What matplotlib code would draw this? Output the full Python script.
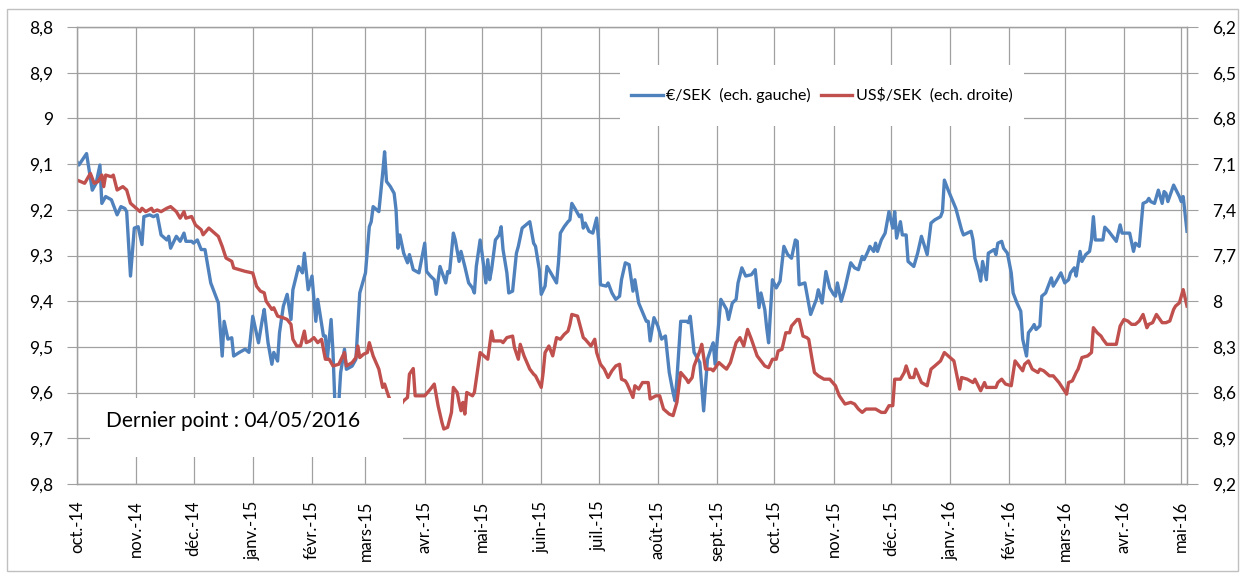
import matplotlib
matplotlib.use('Agg')
import matplotlib.pyplot as plt
from matplotlib.patches import Rectangle
import pandas as pd

# €/SEK (left scale)
eur_dates = [
    '2014-10-01', '2014-10-02', '2014-10-06', '2014-10-09', '2014-10-11', '2014-10-13', '2014-10-14', '2014-10-16',
    '2014-10-19', '2014-10-22', '2014-10-24', '2014-10-26', '2014-10-27', '2014-10-29', '2014-10-31', '2014-11-02',
    '2014-11-04', '2014-11-05', '2014-11-08', '2014-11-10', '2014-11-12', '2014-11-14', '2014-11-17', '2014-11-18',
    '2014-11-19', '2014-11-22', '2014-11-24', '2014-11-26', '2014-11-27', '2014-11-30', '2014-12-01', '2014-12-03',
    '2014-12-05', '2014-12-07', '2014-12-10', '2014-12-14', '2014-12-16', '2014-12-17', '2014-12-19', '2014-12-21',
    '2014-12-22', '2014-12-25', '2014-12-28', '2014-12-30', '2015-01-01', '2015-01-04', '2015-01-06', '2015-01-07',
    '2015-01-09', '2015-01-11', '2015-01-12', '2015-01-14', '2015-01-15', '2015-01-17', '2015-01-19', '2015-01-21',
    '2015-01-22', '2015-01-25', '2015-01-27', '2015-01-28', '2015-01-30', '2015-02-01', '2015-02-03', '2015-02-04',
    '2015-02-07', '2015-02-08', '2015-02-09', '2015-02-11', '2015-02-12', '2015-02-13', '2015-02-15', '2015-02-16',
    '2015-02-18', '2015-02-19', '2015-02-22', '2015-02-24', '2015-02-26', '2015-03-01', '2015-03-03', '2015-03-04',
    '2015-03-05', '2015-03-08', '2015-03-10', '2015-03-11', '2015-03-12', '2015-03-14', '2015-03-16', '2015-03-17',
    '2015-03-18', '2015-03-19', '2015-03-21', '2015-03-23', '2015-03-24', '2015-03-26', '2015-03-29', '2015-03-31',
    '2015-04-01', '2015-04-02', '2015-04-04', '2015-04-06', '2015-04-07', '2015-04-09', '2015-04-12', '2015-04-13',
    '2015-04-14', '2015-04-16', '2015-04-17', '2015-04-19', '2015-04-20', '2015-04-22', '2015-04-24', '2015-04-26',
    '2015-04-27', '2015-04-28', '2015-04-30', '2015-05-01', '2015-05-03', '2015-05-04', '2015-05-05', '2015-05-06',
    '2015-05-08', '2015-05-10', '2015-05-11', '2015-05-12', '2015-05-14', '2015-05-15', '2015-05-17', '2015-05-19',
    '2015-05-20', '2015-05-22', '2015-05-24', '2015-05-26', '2015-05-28', '2015-05-29', '2015-05-31', '2015-06-01',
    '2015-06-03', '2015-06-04', '2015-06-06', '2015-06-09', '2015-06-10', '2015-06-11', '2015-06-13', '2015-06-15',
    '2015-06-16', '2015-06-17', '2015-06-19', '2015-06-21', '2015-06-22', '2015-06-23', '2015-06-24', '2015-06-26',
    '2015-06-28', '2015-06-30', '2015-07-01', '2015-07-02', '2015-07-05', '2015-07-06', '2015-07-08', '2015-07-10',
    '2015-07-12', '2015-07-13', '2015-07-15', '2015-07-17', '2015-07-19', '2015-07-20', '2015-07-22', '2015-07-23',
    '2015-07-26', '2015-07-27', '2015-07-28', '2015-07-30', '2015-08-01', '2015-08-02', '2015-08-03', '2015-08-05',
    '2015-08-07', '2015-08-09', '2015-08-10', '2015-08-11', '2015-08-13', '2015-08-16', '2015-08-17', '2015-08-18',
    '2015-08-20', '2015-08-23', '2015-08-25', '2015-08-27', '2015-08-29', '2015-08-30', '2015-08-31', '2015-09-03',
    '2015-09-06', '2015-09-07', '2015-09-09', '2015-09-11', '2015-09-12', '2015-09-14', '2015-09-16', '2015-09-19',
    '2015-09-21', '2015-09-23', '2015-09-24', '2015-09-26', '2015-09-27', '2015-09-28', '2015-09-30', '2015-10-02',
    '2015-10-04', '2015-10-06', '2015-10-08', '2015-10-10', '2015-10-12', '2015-10-13', '2015-10-14', '2015-10-17',
    '2015-10-20', '2015-10-23', '2015-10-24', '2015-10-26', '2015-10-28', '2015-10-30', '2015-11-01', '2015-11-02',
    '2015-11-03', '2015-11-05', '2015-11-07', '2015-11-10', '2015-11-12', '2015-11-14', '2015-11-16', '2015-11-17',
    '2015-11-19', '2015-11-20', '2015-11-22', '2015-11-23', '2015-11-24', '2015-11-26', '2015-11-28', '2015-11-30',
    '2015-12-02', '2015-12-03', '2015-12-04', '2015-12-06', '2015-12-07', '2015-12-09', '2015-12-10', '2015-12-13',
    '2015-12-15', '2015-12-17', '2015-12-20', '2015-12-22', '2015-12-24', '2015-12-27', '2015-12-28', '2015-12-29',
    '2015-12-31', '2016-01-04', '2016-01-07', '2016-01-08', '2016-01-12', '2016-01-13', '2016-01-14', '2016-01-16',
    '2016-01-17', '2016-01-18', '2016-01-20', '2016-01-21', '2016-01-24', '2016-01-25', '2016-01-26', '2016-01-28',
    '2016-01-29', '2016-01-31', '2016-02-02', '2016-02-03', '2016-02-05', '2016-02-07', '2016-02-08', '2016-02-10',
    '2016-02-11', '2016-02-13', '2016-02-14', '2016-02-15', '2016-02-17', '2016-02-18', '2016-02-20', '2016-02-22',
    '2016-02-23', '2016-02-24', '2016-02-26', '2016-02-28', '2016-03-01', '2016-03-03', '2016-03-04', '2016-03-06',
    '2016-03-07', '2016-03-09', '2016-03-10', '2016-03-12', '2016-03-14', '2016-03-15', '2016-03-16', '2016-03-17',
    '2016-03-19', '2016-03-21', '2016-03-22', '2016-03-24', '2016-03-26', '2016-03-28', '2016-03-30', '2016-03-31',
    '2016-04-03', '2016-04-04', '2016-04-06', '2016-04-07', '2016-04-09', '2016-04-11', '2016-04-13', '2016-04-14',
    '2016-04-15', '2016-04-17', '2016-04-19', '2016-04-21', '2016-04-22', '2016-04-23', '2016-04-24', '2016-04-27',
    '2016-04-30', '2016-05-01', '2016-05-02', '2016-05-04',
]
eur_values = [
    9.095, 9.102, 9.077, 9.157, 9.142, 9.102, 9.186, 9.171,
    9.178, 9.211, 9.193, 9.197, 9.204, 9.345, 9.240, 9.237,
    9.276, 9.215, 9.211, 9.215, 9.211, 9.255, 9.266, 9.258,
    9.284, 9.258, 9.269, 9.251, 9.269, 9.269, 9.273, 9.266,
    9.287, 9.287, 9.360, 9.404, 9.520, 9.444, 9.483, 9.480,
    9.520, 9.512, 9.505, 9.512, 9.433, 9.491, 9.440, 9.418,
    9.491, 9.538, 9.512, 9.531, 9.469, 9.411, 9.385, 9.440,
    9.375, 9.324, 9.338, 9.295, 9.375, 9.345, 9.444, 9.396,
    9.476, 9.476, 9.527, 9.440, 9.512, 9.625, 9.625, 9.556,
    9.505, 9.549, 9.542, 9.527, 9.382, 9.338, 9.237, 9.226,
    9.193, 9.204, 9.120, 9.073, 9.138, 9.149, 9.164, 9.200,
    9.284, 9.255, 9.295, 9.316, 9.298, 9.331, 9.338, 9.295,
    9.273, 9.335, 9.345, 9.353, 9.385, 9.324, 9.360, 9.335,
    9.338, 9.251, 9.266, 9.313, 9.291, 9.324, 9.360, 9.371,
    9.382, 9.324, 9.266, 9.295, 9.360, 9.309, 9.353, 9.331,
    9.266, 9.255, 9.237, 9.287, 9.338, 9.382, 9.378, 9.295,
    9.280, 9.240, 9.233, 9.226, 9.273, 9.280, 9.331, 9.385,
    9.367, 9.324, 9.338, 9.360, 9.316, 9.251, 9.237, 9.226,
    9.222, 9.186, 9.200, 9.215, 9.211, 9.240, 9.229, 9.247,
    9.251, 9.218, 9.266, 9.364, 9.367, 9.360, 9.382, 9.396,
    9.389, 9.353, 9.316, 9.320, 9.378, 9.353, 9.404, 9.414,
    9.444, 9.444, 9.487, 9.436, 9.454, 9.469, 9.483, 9.476,
    9.556, 9.600, 9.618, 9.571, 9.444, 9.444, 9.447, 9.433,
    9.512, 9.534, 9.640, 9.527, 9.502, 9.491, 9.538, 9.396,
    9.418, 9.440, 9.404, 9.396, 9.360, 9.327, 9.345, 9.342,
    9.331, 9.414, 9.382, 9.418, 9.458, 9.491, 9.353, 9.371,
    9.356, 9.280, 9.298, 9.306, 9.266, 9.269, 9.364, 9.360,
    9.429, 9.396, 9.375, 9.404, 9.335, 9.371, 9.385, 9.389,
    9.360, 9.400, 9.371, 9.316, 9.327, 9.331, 9.302, 9.309,
    9.291, 9.280, 9.291, 9.273, 9.291, 9.266, 9.251, 9.204,
    9.240, 9.204, 9.262, 9.226, 9.255, 9.255, 9.313, 9.324,
    9.295, 9.258, 9.298, 9.229, 9.222, 9.215, 9.204, 9.135,
    9.157, 9.197, 9.244, 9.255, 9.247, 9.266, 9.306, 9.335,
    9.356, 9.313, 9.353, 9.295, 9.287, 9.298, 9.273, 9.269,
    9.284, 9.295, 9.338, 9.382, 9.404, 9.422, 9.483, 9.520,
    9.469, 9.458, 9.451, 9.462, 9.454, 9.389, 9.382, 9.360,
    9.349, 9.367, 9.353, 9.338, 9.360, 9.353, 9.338, 9.327,
    9.345, 9.291, 9.313, 9.298, 9.291, 9.266, 9.215, 9.266,
    9.266, 9.266, 9.238, 9.247, 9.258, 9.269, 9.233, 9.251,
    9.251, 9.251, 9.291, 9.273, 9.280, 9.186, 9.182, 9.175,
    9.182, 9.186, 9.157, 9.186, 9.160, 9.164, 9.182, 9.146,
    9.171, 9.182, 9.171, 9.247,
]

# US$/SEK (right scale)
usd_dates = [
    '2014-10-01', '2014-10-03', '2014-10-05', '2014-10-08', '2014-10-10', '2014-10-12', '2014-10-14', '2014-10-15',
    '2014-10-16', '2014-10-19', '2014-10-20', '2014-10-22', '2014-10-25', '2014-10-27', '2014-10-29', '2014-10-31',
    '2014-11-03', '2014-11-04', '2014-11-06', '2014-11-09', '2014-11-10', '2014-11-12', '2014-11-14', '2014-11-17',
    '2014-11-19', '2014-11-22', '2014-11-24', '2014-11-26', '2014-11-27', '2014-11-30', '2014-12-02', '2014-12-05',
    '2014-12-06', '2014-12-09', '2014-12-11', '2014-12-14', '2014-12-16', '2014-12-18', '2014-12-21', '2014-12-22',
    '2014-12-25', '2014-12-28', '2015-01-01', '2015-01-03', '2015-01-05', '2015-01-07', '2015-01-08', '2015-01-11',
    '2015-01-12', '2015-01-14', '2015-01-17', '2015-01-19', '2015-01-21', '2015-01-22', '2015-01-24', '2015-01-26',
    '2015-01-28', '2015-01-29', '2015-01-31', '2015-02-02', '2015-02-04', '2015-02-06', '2015-02-08', '2015-02-10',
    '2015-02-12', '2015-02-15', '2015-02-18', '2015-02-19', '2015-02-22', '2015-02-24', '2015-02-25', '2015-02-26',
    '2015-02-28', '2015-03-02', '2015-03-03', '2015-03-05', '2015-03-08', '2015-03-10', '2015-03-11', '2015-03-13',
    '2015-03-15', '2015-03-17', '2015-03-19', '2015-03-21', '2015-03-23', '2015-03-24', '2015-03-26', '2015-03-27',
    '2015-03-29', '2015-04-01', '2015-04-04', '2015-04-06', '2015-04-08', '2015-04-10', '2015-04-11', '2015-04-13',
    '2015-04-15', '2015-04-16', '2015-04-18', '2015-04-19', '2015-04-20', '2015-04-21', '2015-04-22', '2015-04-23',
    '2015-04-26', '2015-04-27', '2015-04-30', '2015-05-02', '2015-05-04', '2015-05-06', '2015-05-07', '2015-05-11',
    '2015-05-12', '2015-05-14', '2015-05-17', '2015-05-18', '2015-05-20', '2015-05-21', '2015-05-23', '2015-05-26',
    '2015-05-28', '2015-05-29', '2015-06-01', '2015-06-02', '2015-06-03', '2015-06-05', '2015-06-07', '2015-06-09',
    '2015-06-11', '2015-06-13', '2015-06-15', '2015-06-16', '2015-06-17', '2015-06-20', '2015-06-23', '2015-06-24',
    '2015-06-27', '2015-06-29', '2015-06-30', '2015-07-02', '2015-07-04', '2015-07-06', '2015-07-08', '2015-07-10',
    '2015-07-12', '2015-07-13', '2015-07-15', '2015-07-16', '2015-07-19', '2015-07-20', '2015-07-22', '2015-07-24',
    '2015-07-27', '2015-07-28', '2015-07-31', '2015-08-02', '2015-08-04', '2015-08-07', '2015-08-09', '2015-08-11',
    '2015-08-13', '2015-08-16', '2015-08-17', '2015-08-19', '2015-08-20', '2015-08-23', '2015-08-24', '2015-08-26',
    '2015-08-29', '2015-08-30', '2015-09-02', '2015-09-05', '2015-09-06', '2015-09-08', '2015-09-11', '2015-09-13',
    '2015-09-15', '2015-09-17', '2015-09-19', '2015-09-22', '2015-09-24', '2015-09-26', '2015-09-28', '2015-09-30',
    '2015-10-02', '2015-10-03', '2015-10-05', '2015-10-07', '2015-10-09', '2015-10-10', '2015-10-13', '2015-10-14',
    '2015-10-16', '2015-10-18', '2015-10-19', '2015-10-21', '2015-10-22', '2015-10-24', '2015-10-27', '2015-10-30',
    '2015-11-02', '2015-11-04', '2015-11-07', '2015-11-10', '2015-11-12', '2015-11-14', '2015-11-16', '2015-11-18',
    '2015-11-21', '2015-11-23', '2015-11-26', '2015-11-28', '2015-11-30', '2015-12-02', '2015-12-03', '2015-12-06',
    '2015-12-08', '2015-12-09', '2015-12-11', '2015-12-13', '2015-12-14', '2015-12-17', '2015-12-20', '2015-12-22',
    '2015-12-24', '2015-12-27', '2015-12-29', '2015-12-31', '2016-01-03', '2016-01-06', '2016-01-07', '2016-01-10',
    '2016-01-13', '2016-01-14', '2016-01-17', '2016-01-19', '2016-01-20', '2016-01-23', '2016-01-25', '2016-01-26',
    '2016-01-28', '2016-01-30', '2016-02-02', '2016-02-04', '2016-02-06', '2016-02-08', '2016-02-09', '2016-02-11',
    '2016-02-13', '2016-02-16', '2016-02-17', '2016-02-19', '2016-02-22', '2016-02-24', '2016-02-27', '2016-03-02',
    '2016-03-03', '2016-03-05', '2016-03-07', '2016-03-08', '2016-03-10', '2016-03-13', '2016-03-15', '2016-03-16',
    '2016-03-18', '2016-03-20', '2016-03-21', '2016-03-23', '2016-03-26', '2016-03-28', '2016-03-30', '2016-04-01',
    '2016-04-03', '2016-04-05', '2016-04-07', '2016-04-09', '2016-04-11', '2016-04-13', '2016-04-14', '2016-04-16',
    '2016-04-18', '2016-04-21', '2016-04-23', '2016-04-25', '2016-04-27', '2016-04-28', '2016-04-30', '2016-05-02',
    '2016-05-04',
]
usd_values = [
    7.205, 7.215, 7.226, 7.161, 7.226, 7.215, 7.172, 7.248,
    7.172, 7.183, 7.172, 7.270, 7.248, 7.270, 7.357, 7.379,
    7.412, 7.390, 7.412, 7.390, 7.412, 7.401, 7.412, 7.390,
    7.379, 7.412, 7.455, 7.412, 7.455, 7.444, 7.499, 7.531,
    7.564, 7.520, 7.542, 7.575, 7.640, 7.717, 7.738, 7.782,
    7.793, 7.804, 7.815, 7.902, 7.934, 7.945, 8.000, 8.054,
    8.043, 8.098, 8.109, 8.120, 8.152, 8.250, 8.294, 8.294,
    8.196, 8.272, 8.261, 8.239, 8.272, 8.250, 8.381, 8.381,
    8.425, 8.414, 8.337, 8.425, 8.403, 8.370, 8.294, 8.370,
    8.348, 8.337, 8.272, 8.359, 8.446, 8.566, 8.544, 8.621,
    8.680, 8.700, 8.690, 8.653, 8.632, 8.479, 8.442, 8.621,
    8.621, 8.621, 8.577, 8.544, 8.686, 8.795, 8.839, 8.828,
    8.730, 8.566, 8.599, 8.664, 8.719, 8.664, 8.741, 8.599,
    8.621, 8.599, 8.337, 8.359, 8.381, 8.196, 8.261, 8.261,
    8.272, 8.239, 8.229, 8.305, 8.381, 8.283, 8.359, 8.446,
    8.479, 8.490, 8.566, 8.468, 8.337, 8.294, 8.359, 8.239,
    8.250, 8.218, 8.196, 8.152, 8.087, 8.098, 8.239, 8.250,
    8.294, 8.250, 8.337, 8.414, 8.446, 8.501, 8.457, 8.425,
    8.414, 8.512, 8.523, 8.544, 8.632, 8.555, 8.577, 8.534,
    8.534, 8.642, 8.621, 8.621, 8.708, 8.741, 8.751, 8.664,
    8.468, 8.512, 8.534, 8.501, 8.425, 8.327, 8.283, 8.446,
    8.446, 8.457, 8.403, 8.436, 8.446, 8.403, 8.272, 8.239,
    8.294, 8.185, 8.250, 8.359, 8.392, 8.425, 8.436, 8.381,
    8.381, 8.327, 8.316, 8.207, 8.207, 8.163, 8.120, 8.120,
    8.229, 8.239, 8.250, 8.400, 8.468, 8.490, 8.512, 8.512,
    8.555, 8.621, 8.675, 8.664, 8.675, 8.708, 8.730, 8.708,
    8.708, 8.708, 8.730, 8.730, 8.686, 8.686, 8.512, 8.512,
    8.468, 8.425, 8.501, 8.501, 8.446, 8.534, 8.555, 8.446,
    8.425, 8.392, 8.337, 8.359, 8.392, 8.577, 8.501, 8.512,
    8.534, 8.512, 8.588, 8.534, 8.566, 8.566, 8.566, 8.534,
    8.512, 8.544, 8.555, 8.392, 8.425, 8.457, 8.414, 8.392,
    8.446, 8.468, 8.446, 8.457, 8.490, 8.490, 8.534, 8.610,
    8.534, 8.523, 8.468, 8.446, 8.370, 8.359, 8.337, 8.174,
    8.207, 8.229, 8.250, 8.283, 8.283, 8.283, 8.163, 8.120,
    8.130, 8.152, 8.152, 8.130, 8.087, 8.174, 8.152, 8.141,
    8.087, 8.141, 8.141, 8.130, 8.054, 8.032, 8.011, 7.924,
    8.032,
]

left_ticks = [8.8, 8.9, 9.0, 9.1, 9.2, 9.3, 9.4, 9.5, 9.6, 9.7, 9.8]
left_labels = ['8,8', '8,9', '9', '9,1', '9,2', '9,3', '9,4', '9,5', '9,6', '9,7', '9,8']
right_ticks = [6.2, 6.5, 6.8, 7.1, 7.4, 7.7, 8.0, 8.3, 8.6, 8.9, 9.2]
right_labels = ['6,2', '6,5', '6,8', '7,1', '7,4', '7,7', '8', '8,3', '8,6', '8,9', '9,2']
month_labels = ['oct.-14', 'nov.-14', 'déc.-14', 'janv.-15', 'févr.-15', 'mars-15', 'avr.-15',
                'mai-15', 'juin-15', 'juil.-15', 'août-15', 'sept.-15', 'oct.-15', 'nov.-15',
                'déc.-15', 'janv.-16', 'févr.-16', 'mars-16', 'avr.-16', 'mai-16']

plt.rcParams['font.family'] = ['Lato', 'DejaVu Sans']
grid_col = '#a0a0a0'

W, H = 1245, 578
fig = plt.figure(figsize=(W / 100, H / 100), dpi=100)
ax = fig.add_axes([77 / W, 1 - 484 / H, 1110 / W, 457 / H])
ax2 = ax.twinx()

l1, = ax.plot(pd.to_datetime(eur_dates), eur_values, color='#4F81BD', lw=2.4,
              label='€/SEK  (ech. gauche)')
l2, = ax2.plot(pd.to_datetime(usd_dates), usd_values, color='#C0504D', lw=2.4,
               label='US$/SEK  (ech. droite)')

ax.set_xlim(pd.Timestamp('2014-10-01'), pd.Timestamp('2016-05-04'))
ax.set_ylim(9.8, 8.8)
ax2.set_ylim(9.2, 6.2)

ax.set_yticks(left_ticks)
ax.set_yticklabels(left_labels, fontsize=12.5)
ax2.set_yticks(right_ticks)
ax2.set_yticklabels(right_labels, fontsize=12.5)
ax.set_xticks(pd.date_range('2014-10-01', '2016-05-01', freq='MS'))
ax.set_xticklabels(month_labels, rotation=90, fontsize=12)

ax.grid(True, color=grid_col, lw=0.9)
ax.set_axisbelow(True)
for a in (ax, ax2):
    for s in a.spines.values():
        s.set_color(grid_col)
        s.set_linewidth(0.9)
ax.tick_params(axis='y', length=7, color=grid_col, pad=10)
ax.tick_params(axis='x', length=0, pad=12)
ax2.tick_params(axis='y', length=8, color=grid_col, pad=10)

# white boxes over the grid, as in the original
ax2.add_patch(Rectangle((0.4892, 0.7834), 0.364, 0.1335, transform=ax2.transAxes,
                        facecolor='white', edgecolor='none', zorder=3))
ax2.add_patch(Rectangle((0.0117, 0.059), 0.282, 0.129, transform=ax2.transAxes,
                        facecolor='white', edgecolor='none', zorder=3))

ax2.legend(handles=[l1, l2], loc='center', bbox_to_anchor=(0.671, 0.85), ncol=2,
           frameon=False, fontsize=11.5, handlelength=2.0, handletextpad=0.2,
           columnspacing=0.6)
ax2.text(0.1405, 0.138, 'Dernier point : 04/05/2016', transform=ax2.transAxes,
         ha='center', va='center', fontsize=15, zorder=6)

fig.patches.append(Rectangle((7 / W, 1 - 571 / H), 1231 / W, 562 / H, transform=fig.transFigure,
                             fill=False, edgecolor='#c0c0c0', lw=1))

fig.savefig('out.png', dpi=100)
